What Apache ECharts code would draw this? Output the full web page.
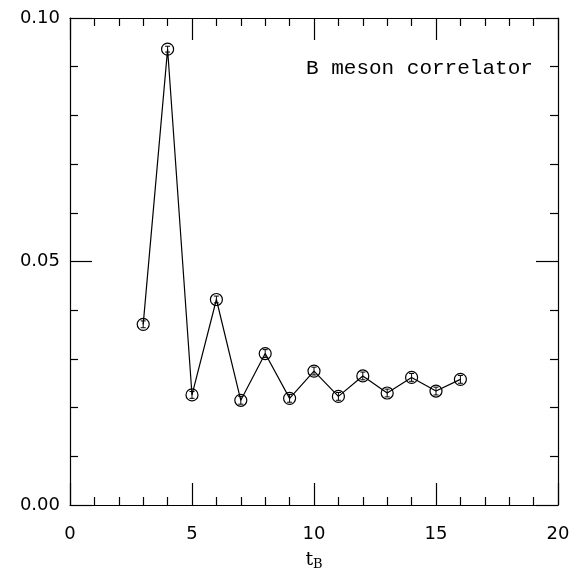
<!DOCTYPE html>
<html>
<head>
<meta charset="utf-8">
<script src="https://cdn.jsdelivr.net/npm/echarts@6/dist/echarts.min.js"></script>
<style>
  html, body { margin: 0; padding: 0; background: #fff; }
  #chart { width: 577px; height: 579px; }
</style>
</head>
<body>
<div id="chart"></div>
<script>
// B meson correlator vs t_B
const tValues = [3, 4, 5, 6, 7, 8, 9, 10, 11, 12, 13, 14, 15, 16]
const corrValues = [0.0371, 0.0936, 0.0226, 0.0422, 0.0215, 0.0311, 0.0219, 0.0275, 0.0223, 0.0265, 0.0230, 0.0262, 0.0234, 0.0258]
const corrErrors = [0.0007, 0.0006, 0.0007, 0.0007, 0.0008, 0.0008, 0.0008, 0.0008, 0.0008, 0.0008, 0.0008, 0.0008, 0.0008, 0.0008]
const xTicks = [0, 5, 10, 15, 20]
const yTicks = [0, 0.05, 0.1]

const tickFont = { color: '#000', fontSize: 18, fontFamily: 'DejaVu Sans' }
const black = '#000'

function axisBase(show) {
  return {
    type: 'value',
    axisLine: { show: true, onZero: false, lineStyle: { color: black, width: 1.2 } },
    axisTick: { show: true, inside: true, length: 22, lineStyle: { color: black, width: 1.2 } },
    minorTick: { show: true, splitNumber: 5, length: 8, lineStyle: { color: black, width: 1.2 } },
    splitLine: { show: false },
    axisLabel: { show: show },
  }
}

const chart = echarts.init(document.getElementById('chart'))

chart.setOption({
  animation: false,
  grid: { left: 70, top: 18, right: 19, bottom: 74 },
  xAxis: [
    Object.assign(axisBase(true), {
      position: 'bottom',
      min: xTicks[0], max: xTicks[xTicks.length - 1], interval: 5,
      axisLabel: Object.assign({ show: true, margin: 20 }, tickFont),
      name: '{t|t}{s|B}',
      nameLocation: 'middle',
      nameGap: 44,
      nameTextStyle: {
        rich: {
          t: { fontSize: 19, fontFamily: 'DejaVu Serif', color: black },
          s: { fontSize: 13, fontFamily: 'DejaVu Serif', color: black, verticalAlign: 'bottom', padding: [9, 0, 0, 0] },
        },
      },
    }),
    Object.assign(axisBase(false), {
      position: 'top',
      min: xTicks[0], max: xTicks[xTicks.length - 1], interval: 5,
    }),
  ],
  yAxis: [
    Object.assign(axisBase(true), {
      position: 'left',
      min: yTicks[0], max: yTicks[yTicks.length - 1], interval: 0.05,
      axisLabel: Object.assign({ show: true, margin: 10, formatter: v => v.toFixed(2) }, tickFont),
    }),
    Object.assign(axisBase(false), {
      position: 'right',
      min: yTicks[0], max: yTicks[yTicks.length - 1], interval: 0.05,
    }),
  ],
  graphic: [
    {
      type: 'text',
      left: 306,
      top: 58,
      style: { text: 'B meson correlator', fontSize: 21, fontFamily: 'Liberation Mono', fill: black },
    },
  ],
  series: [
    {
      type: 'line',
      data: tValues.map((t, i) => [t, corrValues[i]]),
      symbol: 'circle',
      symbolSize: 12,
      lineStyle: { color: black, width: 1.2 },
      itemStyle: { color: 'rgba(0,0,0,0)', borderColor: black, borderWidth: 1.2 },
      z: 3,
    },
    {
      type: 'custom',
      data: tValues.map((t, i) => [t, corrValues[i] - corrErrors[i], corrValues[i] + corrErrors[i]]),
      renderItem: (params, api) => {
        const lo = api.coord([api.value(0), api.value(1)])
        const hi = api.coord([api.value(0), api.value(2)])
        const w = 2.5
        const style = { stroke: black, lineWidth: 1 }
        return {
          type: 'group',
          children: [
            { type: 'line', shape: { x1: lo[0], y1: lo[1], x2: hi[0], y2: hi[1] }, style },
            { type: 'line', shape: { x1: lo[0] - w, y1: lo[1], x2: lo[0] + w, y2: lo[1] }, style },
            { type: 'line', shape: { x1: hi[0] - w, y1: hi[1], x2: hi[0] + w, y2: hi[1] }, style },
          ],
        }
      },
      z: 4,
    },
  ],
})
</script>
</body>
</html>
